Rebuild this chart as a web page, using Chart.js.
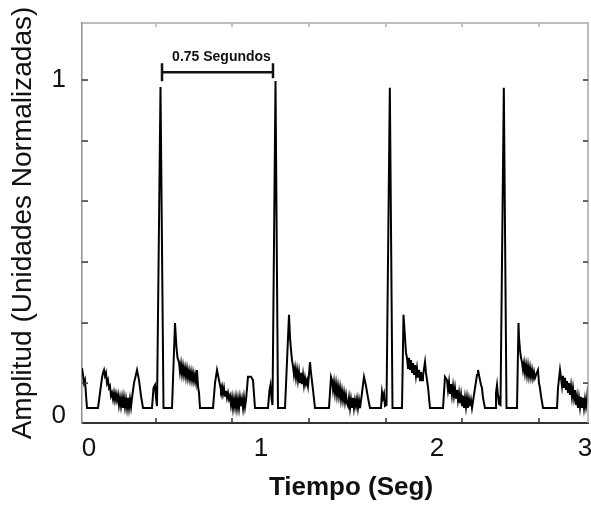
<!DOCTYPE html>
<html lang="es">
<head>
<meta charset="UTF-8">
<title>Amplitud vs Tiempo</title>
<script src="https://cdn.jsdelivr.net/npm/chart.js"></script>
<style>
  html, body { margin: 0; padding: 0; background: #fff; }
  .caja { width: 591px; height: 506px; position: relative; }
</style>
</head>
<body>
<div class="caja">
  <canvas id="grafico"></canvas>
</div>

<script>
// Señal, tramo por tramo (tiempo en seg, amplitud normalizada)
const tiempo = [
  0, 0.006, 0.012, 0.018, 0.024, 0.030, 0.096,
  0.108, 0.120, 0.126, 0.132, 0.138, 0.144, 0.150, 0.156, 0.162, 0.168, 0.174, 0.180, 0.186, 0.192, 0.198, 0.204, 0.210, 0.216, 0.222, 0.228, 0.234, 0.240, 0.246, 0.252, 0.258, 0.264, 0.270, 0.276, 0.282, 0.288, 0.294, 0.300, 0.312, 0.330, 0.342, 0.354, 0.366,
  0.420, 0.429, 0.438, 0.444, 0.450, 0.471, 0.489, 0.540,
  0.558, 0.567, 0.573, 0.582, 0.588, 0.594, 0.600, 0.606, 0.612, 0.618, 0.624, 0.630, 0.636, 0.642, 0.648, 0.654, 0.660, 0.666, 0.672, 0.678, 0.684, 0.690, 0.696, 0.702, 0.708, 0.786,
  0.798, 0.810, 0.822, 0.828, 0.834, 0.840, 0.846, 0.852, 0.858, 0.864, 0.870, 0.876, 0.882, 0.888, 0.894, 0.900, 0.906, 0.912, 0.918, 0.924, 0.930, 0.936, 0.942, 0.948, 0.954, 0.960, 0.966, 0.972, 0.978, 0.984, 0.996, 1.014, 1.026, 1.038, 1.116,
  1.125, 1.131, 1.137, 1.143, 1.161, 1.176, 1.218,
  1.242, 1.248, 1.254, 1.260, 1.266, 1.272, 1.278, 1.284, 1.290, 1.296, 1.302, 1.308, 1.314, 1.320, 1.326, 1.332, 1.338, 1.344, 1.350, 1.356, 1.368, 1.374, 1.386, 1.398, 1.482,
  1.494, 1.500, 1.506, 1.512, 1.518, 1.524, 1.530, 1.536, 1.542, 1.548, 1.554, 1.560, 1.566, 1.572, 1.578, 1.584, 1.590, 1.596, 1.602, 1.608, 1.614, 1.620, 1.626, 1.632, 1.638, 1.644, 1.650, 1.656, 1.662, 1.668, 1.680, 1.692, 1.704, 1.716, 1.728, 1.794,
  1.800, 1.806, 1.812, 1.818, 1.827, 1.847, 1.863, 1.920,
  1.929, 1.938, 1.944, 1.950, 1.956, 1.962, 1.968, 1.974, 1.980, 1.986, 1.992, 1.998, 2.004, 2.010, 2.016, 2.022, 2.028, 2.034, 2.040, 2.046, 2.058, 2.064, 2.076, 2.088, 2.166,
  2.178, 2.190, 2.196, 2.202, 2.208, 2.214, 2.220, 2.226, 2.232, 2.238, 2.244, 2.250, 2.256, 2.262, 2.268, 2.274, 2.280, 2.286, 2.292, 2.298, 2.304, 2.310, 2.316, 2.322, 2.328, 2.334, 2.340, 2.358, 2.370, 2.376, 2.388, 2.394, 2.400, 2.406, 2.418, 2.478,
  2.484, 2.490, 2.496, 2.502, 2.511, 2.531, 2.547, 2.610,
  2.619, 2.622, 2.628, 2.634, 2.640, 2.646, 2.652, 2.658, 2.664, 2.670, 2.676, 2.682, 2.688, 2.694, 2.700, 2.706, 2.712, 2.718, 2.724, 2.736, 2.742, 2.748, 2.754, 2.766, 2.850,
  2.856, 2.868, 2.874, 2.880, 2.886, 2.892, 2.898, 2.904, 2.910, 2.916, 2.922, 2.928, 2.934, 2.940, 2.946, 2.952, 2.958, 2.964, 2.970, 2.976, 2.982, 2.988, 2.994, 3.000, 3.006, 3.012, 3.018, 3.024, 3.030, 3.036
];

const amplitud = [
  0.122, 0.101, 0.076, 0.085, 0.040, 0, 0,
  0.046, 0.092, 0.107, 0.116, 0.098, 0.107, 0.076, 0.085, 0.061, 0.067, 0.037, 0.046, 0.027, 0.046, 0.024, 0.043, 0.024, 0.040, 0.009, 0.031, 0.006, 0.031, 0, 0.031, 0.003, 0.027, 0, 0.031, 0, 0.027, 0.003, 0.031, 0.076, 0.116, 0.085, 0.037, 0,
  0, 0.061, 0.070, 0.031, 0.006, 0.979, 0, 0,
  0.259, 0.183, 0.153, 0.140, 0.110, 0.134, 0.104, 0.128, 0.101, 0.122, 0.095, 0.119, 0.092, 0.113, 0.088, 0.110, 0.085, 0.107, 0.082, 0.101, 0.079, 0.116, 0.067, 0.046, 0, 0,
  0.076, 0.116, 0.085, 0.070, 0.055, 0.067, 0.043, 0.061, 0.037, 0.052, 0.031, 0.046, 0.027, 0.037, 0.009, 0.031, 0, 0.027, 0.003, 0.031, 0, 0.027, 0, 0.031, 0.006, 0.027, 0, 0.031, 0.003, 0.024, 0.095, 0.095, 0.085, 0, 0,
  0.055, 0.070, 0.031, 0.009, 0.997, 0, 0,
  0.284, 0.214, 0.177, 0.146, 0.128, 0.101, 0.122, 0.092, 0.116, 0.085, 0.110, 0.076, 0.107, 0.073, 0.101, 0.070, 0.092, 0.073, 0.085, 0.067, 0.140, 0.107, 0.055, 0, 0,
  0.095, 0.085, 0.055, 0.079, 0.046, 0.073, 0.040, 0.067, 0.037, 0.061, 0.027, 0.052, 0.024, 0.046, 0.018, 0.040, 0.015, 0.006, 0.031, 0, 0.027, 0.003, 0.031, 0, 0.024, 0.006, 0.027, 0, 0.024, 0, 0.046, 0.095, 0.067, 0.031, 0, 0,
  0.049, 0.031, 0.043, 0.006, 0.009, 0.976, 0, 0,
  0.284, 0.214, 0.168, 0.153, 0.122, 0.153, 0.116, 0.146, 0.107, 0.137, 0.101, 0.131, 0.098, 0.122, 0.095, 0.116, 0.085, 0.110, 0.085, 0.098, 0.140, 0.107, 0.064, 0, 0,
  0.095, 0.085, 0.055, 0.079, 0.043, 0.073, 0.040, 0.067, 0.037, 0.061, 0.031, 0.055, 0.024, 0.046, 0.015, 0.040, 0.006, 0.037, 0, 0.031, 0.003, 0.031, 0, 0.027, 0.006, 0.024, 0, 0.061, 0.101, 0.116, 0.085, 0.070, 0.061, 0.031, 0, 0,
  0.046, 0.070, 0.037, 0.012, 0.009, 0.976, 0, 0,
  0.259, 0.214, 0.177, 0.153, 0.140, 0.116, 0.137, 0.107, 0.131, 0.101, 0.128, 0.098, 0.122, 0.095, 0.116, 0.092, 0.110, 0.092, 0.101, 0.116, 0.076, 0.061, 0.037, 0, 0,
  0.061, 0.116, 0.092, 0.067, 0.098, 0.061, 0.092, 0.055, 0.082, 0.046, 0.076, 0.040, 0.067, 0.034, 0.061, 0.031, 0.055, 0.009, 0.034, 0, 0.031, 0.003, 0.034, 0, 0.031, 0, 0.027, 0.003, 0.024, 0.067
];

// etiquetas de los ejes (tal como estan colocadas en la figura)
const posEtiquetasX = [0.042, 1.074, 2.130, 3.018];
const etiquetasX = ['0', '1', '2', '3'];
const posEtiquetasY = [-0.024, 1];
const etiquetasY = ['0', '1'];

// marcas cortas hacia dentro del recuadro
const marcasX = [0.444, 0.900, 1.362, 1.824, 2.280, 2.742];
const marcasY = [0.076, 0.259, 0.445, 0.631, 0.814, 1];

// intervalo entre dos latidos
const intervalo = [0.480, 1.146];
const nivelIntervalo = 1.024;
const textoIntervalo = '0.75 Segundos';

const tituloX = 'Tiempo (Seg)';
const tituloY = 'Amplitud (Unidades Normalizadas)';

Chart.defaults.font.family = "'Liberation Sans', Arial, sans-serif";
Chart.defaults.color = '#111';

let puntos = [];
for (let i = 0; i < Math.min(tiempo.length, amplitud.length); i++) {
  puntos.push({ x: tiempo[i], y: amplitud[i] });
}

// recuadro, marcas internas, anotacion y titulo del eje x
const extras = {
  id: 'extras',
  afterDraw(chart) {
    const { ctx, chartArea: a, scales: { x, y } } = chart;
    ctx.save();

    ctx.strokeStyle = '#a8a8a8';
    ctx.lineWidth = 1.5;
    ctx.beginPath();
    ctx.moveTo(a.left, a.top);
    ctx.lineTo(a.right, a.top);
    ctx.lineTo(a.right, a.bottom);
    ctx.stroke();

    ctx.lineWidth = 1.5;
    marcasX.forEach(v => {
      const px = x.getPixelForValue(v);
      ctx.strokeStyle = '#333';
      ctx.beginPath(); ctx.moveTo(px, a.bottom); ctx.lineTo(px, a.bottom - 5); ctx.stroke();
      ctx.strokeStyle = '#b0b0b0';
      ctx.beginPath(); ctx.moveTo(px, a.top); ctx.lineTo(px, a.top + 4); ctx.stroke();
    });
    marcasY.forEach(v => {
      const py = y.getPixelForValue(v);
      ctx.strokeStyle = '#333';
      ctx.beginPath(); ctx.moveTo(a.left, py); ctx.lineTo(a.left + 6, py); ctx.stroke();
      ctx.beginPath(); ctx.moveTo(a.right, py); ctx.lineTo(a.right - 5, py); ctx.stroke();
    });

    // llave de 0.75 segundos
    const x1 = x.getPixelForValue(intervalo[0]);
    const x2 = x.getPixelForValue(intervalo[1]);
    const yb = y.getPixelForValue(nivelIntervalo);
    ctx.strokeStyle = '#111';
    ctx.lineWidth = 2.5;
    ctx.beginPath();
    ctx.moveTo(x1, yb); ctx.lineTo(x2, yb);
    ctx.moveTo(x1, yb - 9); ctx.lineTo(x1, yb + 9);
    ctx.moveTo(x2, yb - 9); ctx.lineTo(x2, yb + 6);
    ctx.stroke();

    ctx.fillStyle = '#111';
    ctx.font = "bold 14px 'Liberation Sans', Arial, sans-serif";
    ctx.textAlign = 'center';
    ctx.textBaseline = 'alphabetic';
    ctx.fillText(textoIntervalo, (x1 + x2) / 2 + 4, yb - 11);

    ctx.font = "bold 26px 'Liberation Sans', Arial, sans-serif";
    ctx.textBaseline = 'middle';
    ctx.fillText(tituloX, a.left + 269, 488);

    ctx.restore();
  }
};

const config = {
  type: 'line',
  data: {
    datasets: [{
      data: puntos,
      borderColor: '#000',
      borderWidth: 2,
      pointRadius: 0,
      tension: 0,
      fill: false
    }]
  },
  options: {
    responsive: true,
    maintainAspectRatio: false,
    animation: false,
    layout: { padding: { top: 23, right: 3, left: 0, bottom: 0 } },
    plugins: {
      legend: { display: false },
      tooltip: { enabled: false }
    },
    scales: {
      x: {
        type: 'linear',
        min: 0,
        max: 3.036,
        afterBuildTicks: s => { s.ticks = posEtiquetasX.map(v => ({ value: v })); },
        afterFit: s => { s.height = 83; s.paddingLeft = 0; s.paddingRight = 0; },
        grid: { display: false, drawTicks: false },
        border: { display: true, color: '#333', width: 2 },
        ticks: {
          autoSkip: false,
          maxRotation: 0,
          padding: 10,
          font: { size: 26 },
          callback: (v, i) => etiquetasX[i]
        }
      },
      y: {
        type: 'linear',
        min: -0.0457,
        max: 1.1738,
        afterBuildTicks: s => { s.ticks = posEtiquetasY.map(v => ({ value: v })); },
        afterFit: s => { s.width = 82; s.paddingTop = 0; s.paddingBottom = 0; },
        grid: { display: false, drawTicks: false },
        border: { display: true, color: '#909090', width: 1.5 },
        ticks: {
          autoSkip: false,
          padding: 16,
          font: { size: 26 },
          callback: (v, i) => etiquetasY[i]
        },
        title: {
          display: true,
          text: tituloY,
          font: { size: 28 },
          padding: { top: 6, bottom: 0 }
        }
      }
    }
  },
  plugins: [extras]
};

let grafico = new Chart(document.getElementById('grafico'), config);
</script>
</body>
</html>
